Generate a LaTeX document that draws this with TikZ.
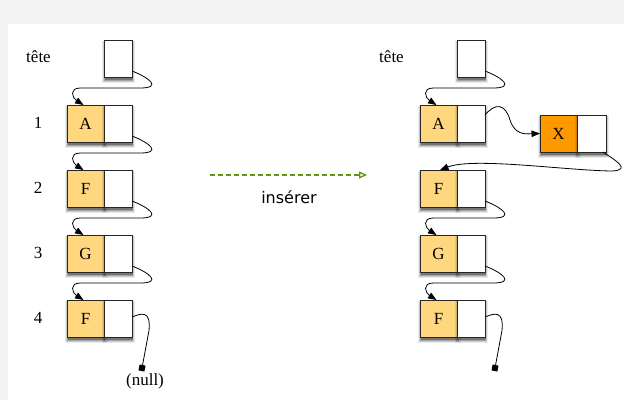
\documentclass[tikz,border=0pt]{standalone}
\usepackage{fontspec}
\setmainfont{Liberation Serif}
\newfontfamily\sansf{DejaVu Sans}
\usetikzlibrary{arrows.meta,shadows}
\definecolor{bggray}{HTML}{F3F3F3}
\definecolor{cellfill}{HTML}{FFD77E}
\definecolor{xfill}{HTML}{FF9900}
\definecolor{insgreen}{HTML}{5B9A14}
\tikzset{
  softshadow/.style={
    general shadow={shadow xshift=0.5pt, shadow yshift=-3pt, fill=black, opacity=0.08, shadow scale=1.16},
    general shadow={shadow xshift=0.5pt, shadow yshift=-3pt, fill=black, opacity=0.13, shadow scale=1.10},
    general shadow={shadow xshift=0.5pt, shadow yshift=-3pt, fill=black, opacity=0.20, shadow scale=1.05},
    general shadow={shadow xshift=0.5pt, shadow yshift=-3pt, fill=black, opacity=0.28, shadow scale=1.0}},
  cell/.style={draw=black!85, line width=0.9pt, minimum height=37pt, inner sep=0pt, outer sep=0pt,
    anchor=north west, font=\fontsize{17}{17}\selectfont, softshadow},
  datacell/.style={cell, fill=cellfill, minimum width=37pt},
  xcell/.style={cell, fill=xfill, minimum width=37pt},
  ptrcell/.style={cell, fill=white, minimum width=28pt},
  lbl/.style={font=\fontsize{17}{17}\selectfont, inner sep=0pt},
  ptr/.style={draw=black, line width=0.8pt, -{Triangle[length=8.5pt,width=6.5pt]}},
  nullline/.style={draw=black, line width=0.8pt},
  nullsq/.style={fill=black, minimum size=6pt, inner sep=0pt, outer sep=0pt, rotate=-11},
  insarrow/.style={draw=insgreen, line width=1.3pt, dash pattern=on 5pt off 3pt,
    -{Triangle[open,length=8pt,width=7pt,line width=1.3pt]}},
}
\newcommand{\nextlink}[2]{%
  \draw[ptr] ([yshift=6pt]#1.south east)
    .. controls ([xshift=18pt,yshift=-1pt]#1.south east) and ([xshift=30pt,yshift=-11pt]#1.south east)
    .. ([xshift=8pt,yshift=-11pt]#1.south east)
    -- ([xshift=-5pt,yshift=17pt]#2.north)
    .. controls ([xshift=-17pt,yshift=17pt]#2.north) and ([xshift=-13pt,yshift=7pt]#2.north)
    .. ([xshift=-2pt]#2.north);}
\newcommand{\nulllink}[2]{%
  \draw[nullline] ([yshift=1.5pt]#1.east)
    .. controls ([xshift=9pt,yshift=5pt]#1.east) and ([xshift=19pt,yshift=9pt]#1.east)
    .. ([xshift=17pt,yshift=-12pt]#1.east) -- (#2);}
\begin{document}
\begin{tikzpicture}[x=1pt,y=-1pt]
\useasboundingbox (0,0) rectangle (624,400);
\fill[bggray] (0,0) rectangle (624,400);
\fill[white] (8,24) rectangle (624,400);

% ---------- left list ----------
\node[lbl] (lt) at (38.5,57) {tête};
\node[ptrcell] (lh) at (104,40) {};
\node[datacell] (ld1) at (67,105) {A};
\node[ptrcell] (lp1) at (ld1.north east) {};
\node[datacell] (ld2) at (67,170) {F};
\node[ptrcell] (lp2) at (ld2.north east) {};
\node[datacell] (ld3) at (67,235) {G};
\node[ptrcell] (lp3) at (ld3.north east) {};
\node[datacell] (ld4) at (67,300) {F};
\node[ptrcell] (lp4) at (ld4.north east) {};
\node[lbl] (n1) at (38,123) {1};
\node[lbl] (n2) at (38,188) {2};
\node[lbl] (n3) at (38,253) {3};
\node[lbl] (n4) at (38,318) {4};
\nextlink{lh}{ld1}
\nextlink{lp1}{ld2}
\nextlink{lp2}{ld3}
\nextlink{lp3}{ld4}
\node[nullsq] (lnull) at (142,368) {};
\nulllink{lp4}{lnull}
\node[lbl] (nulltxt) at (145,381) {(null)};

% ---------- insert arrow ----------
\coordinate (ins1) at (210,175);
\coordinate (ins2) at (367,175);
\draw[insarrow] (ins1) -- (ins2);
\node[inner sep=0pt, font=\sansf\fontsize{16}{16}\selectfont] (instxt) at (289,197) {insérer};

% ---------- right list ----------
\node[lbl] (rt) at (391.5,57) {tête};
\node[ptrcell] (rh) at (457,40) {};
\node[datacell] (rd1) at (420,105) {A};
\node[ptrcell] (rp1) at (rd1.north east) {};
\node[xcell] (xd) at (540,115) {X};
\node[ptrcell, minimum width=29pt] (xp) at (xd.north east) {};
\node[datacell] (rd2) at (420,170) {F};
\node[ptrcell] (rp2) at (rd2.north east) {};
\node[datacell] (rd3) at (420,235) {G};
\node[ptrcell] (rp3) at (rd3.north east) {};
\node[datacell] (rd4) at (420,300) {F};
\node[ptrcell] (rp4) at (rd4.north east) {};
\nextlink{rh}{rd1}
\draw[ptr] ([yshift=-10pt]rp1.north east)
  .. controls ([xshift=10pt,yshift=2pt]rp1.north east) and ([xshift=20pt,yshift=2pt]rp1.north east)
  .. ([xshift=25pt,yshift=-15pt]rp1.north east)
  .. controls ([xshift=-25pt,yshift=-1.5pt]xd.west) and ([xshift=-15pt,yshift=-0.5pt]xd.west)
  .. (xd.west);
\draw[ptr] ([xshift=-3pt]xp.south east)
  .. controls ([xshift=9pt,yshift=-8pt]xp.south east) and ([xshift=26pt,yshift=-18pt]xp.south east)
  .. ([xshift=6pt,yshift=-19pt]xp.south east)
  .. controls ([xshift=-40pt,yshift=-18.5pt]xp.south east) and ([xshift=35pt,yshift=13pt]rd2.north)
  .. ([xshift=1.5pt]rd2.north);
\nextlink{rp2}{rd3}
\nextlink{rp3}{rd4}
\node[nullsq] (rnull) at (495,368) {};
\nulllink{rp4}{rnull}
\end{tikzpicture}
\end{document}
